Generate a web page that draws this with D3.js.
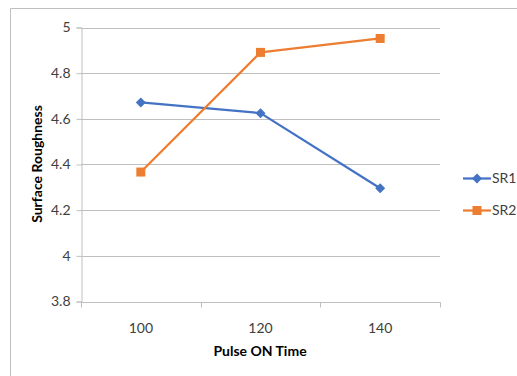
<!DOCTYPE html>
<html>
<head>
<meta charset="utf-8">
<script src="https://cdn.jsdelivr.net/npm/d3@7"></script>
<style>
  html, body { margin: 0; padding: 0; background: #fff; }
  svg { display: block; font-family: Lato, "Open Sans", sans-serif; }
</style>
</head>
<body>
<svg id="chart" width="517" height="376"></svg>
<script>
// Pulse ON time settings and measured surface roughness per series
const categories = ["100", "120", "140"];
const sr1 = [4.672, 4.625, 4.296];
const sr2 = [4.367, 4.891, 4.952];
const seriesNames = ["SR1", "SR2"];
const yTicks = [3.8, 4, 4.2, 4.4, 4.6, 4.8, 5];
const colors = ["#4472c4", "#ed7d31"];

const svg = d3.select("#chart");
const plot = { left: 81, right: 440, top: 27.5, bottom: 301.5 };

// Chart frame: top and left border lines
svg.append("line").attr("x1", 10.5).attr("x2", 517).attr("y1", 8.5).attr("y2", 8.5)
  .attr("stroke", "#bfbfbf").attr("stroke-width", 1);
svg.append("line").attr("x1", 10.5).attr("x2", 10.5).attr("y1", 8.5).attr("y2", 376)
  .attr("stroke", "#bfbfbf").attr("stroke-width", 1);

const x = d3.scaleBand().domain(categories).range([plot.left, plot.right]);
const y = d3.scaleLinear().domain([3.8, 5]).range([plot.bottom, plot.top]);

// Horizontal gridlines
svg.append("g").selectAll("line").data(yTicks.filter(t => t > 3.8)).join("line")
  .attr("x1", plot.left).attr("x2", plot.right)
  .attr("y1", d => Math.round(y(d)) + 0.5).attr("y2", d => Math.round(y(d)) + 0.5)
  .attr("stroke", "#bfbfbf").attr("stroke-width", 1);

// Y axis
const yAxis = svg.append("g").attr("transform", `translate(${plot.left + 0.5},0)`)
  .call(d3.axisLeft(y).tickValues(yTicks).tickFormat(d3.format("~g")).tickSizeOuter(0).tickSize(5).tickPadding(6));
yAxis.select(".domain").attr("stroke", "#bfbfbf");
yAxis.selectAll(".tick line").attr("stroke", "#bfbfbf");
yAxis.selectAll(".tick text").attr("fill", "#404040").attr("font-size", 14)
  .attr("font-family", "Lato, sans-serif");

// X axis with boundary tick marks between categories
const xAxisG = svg.append("g").attr("transform", `translate(0,${Math.round(plot.bottom) + 0.5})`);
xAxisG.append("line").attr("x1", plot.left).attr("x2", plot.right + 0.5)
  .attr("stroke", "#bfbfbf");
const bounds = categories.map(c => x(c)).concat([x(categories[categories.length - 1]) + x.bandwidth()]);
xAxisG.selectAll("line.b").data(bounds).join("line").attr("class", "b")
  .attr("x1", d => Math.round(d) + 0.5).attr("x2", d => Math.round(d) + 0.5)
  .attr("y1", 0).attr("y2", 5).attr("stroke", "#bfbfbf");
xAxisG.selectAll("text").data(categories).join("text")
  .attr("x", d => x(d) + x.bandwidth() / 2).attr("y", 30)
  .attr("text-anchor", "middle").attr("fill", "#404040").attr("font-size", 14)
  .text(d => d);

// Axis titles
svg.append("text").attr("x", 260).attr("y", 356).attr("text-anchor", "middle")
  .attr("font-weight", "bold").attr("font-size", 14).attr("fill", "#000")
  .text("Pulse ON Time");
svg.append("text").attr("transform", "translate(42,164) rotate(-90)")
  .attr("text-anchor", "middle").attr("font-weight", "bold").attr("font-size", 14)
  .attr("fill", "#000").text("Surface Roughness");

// Diamond marker path, 10px across
const diamondPath = "M0,-5L5,0L0,5L-5,0Z";

// Series lines and markers
const series = [sr1, sr2];
const line = d3.line().x((d, i) => x(categories[i]) + x.bandwidth() / 2).y(d => y(d));

series.forEach((vals, si) => {
  svg.append("path").datum(vals).attr("d", line)
    .attr("fill", "none").attr("stroke", colors[si]).attr("stroke-width", 2.25)
    .attr("stroke-linejoin", "round");
  const g = svg.append("g");
  vals.forEach((v, i) => {
    const cx = x(categories[i]) + x.bandwidth() / 2, cy = y(v);
    if (si === 0) {
      g.append("path").attr("d", diamondPath).attr("transform", `translate(${cx},${cy})`)
        .attr("fill", colors[si]);
    } else {
      g.append("rect").attr("x", cx - 4.5).attr("y", cy - 4.5).attr("width", 9).attr("height", 9)
        .attr("fill", colors[si]);
    }
  });
});

// Legend
const legend = svg.append("g");
seriesNames.forEach((name, si) => {
  const ly = 178.5 + si * 32;
  legend.append("line").attr("x1", 463).attr("x2", 491).attr("y1", ly).attr("y2", ly)
    .attr("stroke", colors[si]).attr("stroke-width", 2.25);
  if (si === 0) {
    legend.append("path").attr("d", diamondPath).attr("transform", `translate(477,${ly})`)
      .attr("fill", colors[si]);
  } else {
    legend.append("rect").attr("x", 472.5).attr("y", ly - 4.5).attr("width", 9).attr("height", 9)
      .attr("fill", colors[si]);
  }
  legend.append("text").attr("x", 492).attr("y", ly + 4.5).attr("font-size", 14)
    .attr("fill", "#404040").text(name);
});
</script>
</body>
</html>
